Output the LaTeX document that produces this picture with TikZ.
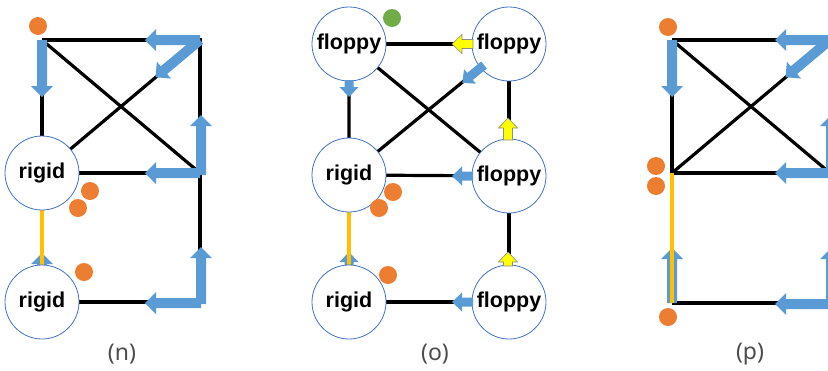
\documentclass[tikz,border=0pt]{standalone}
\usepackage{fontspec}
\setmainfont{Liberation Sans}
\newfontfamily\capfont{Noto Sans}
\definecolor{arrowblue}{HTML}{5B9BD5}
\definecolor{dotorange}{HTML}{ED7D31}
\definecolor{dotgreen}{HTML}{70AD47}
\definecolor{rigidbar}{HTML}{FFC000}
\definecolor{ringblue}{HTML}{4472C4}
\definecolor{flagyellow}{HTML}{FFFF00}

% block arrow: #1 style, #2 start point, #3 direction (degrees), #4 length
\newcommand\blockarrow[4][blueblock]{%
  \begin{scope}[shift={#2}, rotate=#3]
    \path[#1] (0,-5) -- (#4-11,-5) -- (#4-11,-11) -- (#4,0)
      -- (#4-11,11) -- (#4-11,5) -- (0,5) -- cycle;
  \end{scope}}
% smaller block arrow used next to the circle nodes
\newcommand\smallarrow[4][blueblock]{%
  \begin{scope}[shift={#2}, rotate=#3]
    \path[#1] (0,-4.5) -- (#4-10,-4.5) -- (#4-10,-9.5) -- (#4,0)
      -- (#4-10,9.5) -- (#4-10,4.5) -- (0,4.5) -- cycle;
  \end{scope}}

\tikzset{
  bar/.style={line width=3.2pt, black},
  rigidlink/.style={line width=3.6pt, rigidbar},
  blueblock/.style={fill=arrowblue},
  yellowblock/.style={fill=flagyellow, draw=black!45, line width=0.6pt},
  state/.style={circle, draw=ringblue, line width=0.8pt, fill=white,
    minimum size=74pt, inner sep=0pt,
    font=\fontsize{21.5}{25}\selectfont\bfseries},
  dot/.style={circle, fill=dotorange, minimum size=18pt, inner sep=0pt},
  gdot/.style={circle, fill=dotgreen, minimum size=18pt, inner sep=0pt},
  caption/.style={font=\capfont\fontsize{23}{27}\selectfont, text=black!70}
}

\begin{document}
\begin{tikzpicture}[x=1pt, y=-1pt]
\useasboundingbox (0,0) rectangle (828,370);
\clip (0,0) rectangle (828,370);

% ---------------- (n) ----------------
\coordinate (nTL) at (42,40);
\coordinate (nTR) at (200,40);
\coordinate (nMR) at (200,173);
\coordinate (nBR) at (200,302);
\coordinate (nM0) at (42,173);
\coordinate (nB0) at (42,302);

\draw[bar] (nTL) -- (nTR) -- (nMR) -- (nBR) -- (nB0);
\draw[bar] (nTL) -- (nM0) -- (nMR);
\draw[bar] (nTL) -- (nMR);
\draw[bar] (nTR) -- (nM0);
\blockarrow{(42,276)}{90}{23}
\draw[rigidlink] (nM0) -- (nB0);
\node[state] (nM) at (nM0) {rigid};
\node[state] (nB) at (nB0) {rigid};

\blockarrow{(nTL)}{270}{57}
\blockarrow{(nTR)}{180}{55}
\blockarrow{(nTR)}{219.9}{58}
\blockarrow{(201,175)}{90}{60}
\blockarrow{(nMR)}{180}{55}
\blockarrow{(201,304)}{90}{57}
\blockarrow{(201,303)}{180}{56}

\node[dot] (n1) at (38,26) {};
\node[dot] (n2) at (90,191) {};
\node[dot] (n3) at (78,208) {};
\node[dot] (n4) at (84,272) {};
\node[caption] (ncap) at (122,354) {(n)};

% ---------------- (o) ----------------
\coordinate (oTL0) at (349,44);
\coordinate (oTR0) at (509,44);
\coordinate (oM0) at (349,175);
\coordinate (oMR0) at (509,176);
\coordinate (oB0) at (349,302);
\coordinate (oBR0) at (509,302);

\draw[bar] (oTL0) -- (oTR0) -- (oMR0) -- (oBR0) -- (oB0);
\draw[bar] (oTL0) -- (oM0) -- (oMR0);
\draw[bar] (oTL0) -- (oMR0);
\draw[bar] (oTR0) -- (oM0);
\smallarrow{(349,276)}{90}{24}
\draw[rigidlink] (oM0) -- (oB0);

\node[state] (oTL) at (oTL0) {floppy};
\node[state] (oTR) at (oTR0) {floppy};
\node[state] (oM) at (oM0) {rigid};
\node[state] (oMR) at (oMR0) {floppy};
\node[state] (oB) at (oB0) {rigid};
\node[state] (oBR) at (oBR0) {floppy};

\smallarrow[yellowblock]{(473,44)}{180}{21}
\smallarrow{(484,65)}{219.3}{28}
\smallarrow{(349,80)}{270}{17}
\smallarrow[yellowblock]{(508,140)}{90}{22}
\smallarrow{(473,176)}{180}{21}
\smallarrow[yellowblock]{(508,266)}{90}{14}
\smallarrow{(473,302)}{180}{21}

\node[gdot] (o0) at (392,18) {};
\node[dot] (o1) at (393,192) {};
\node[dot] (o2) at (379,208) {};
\node[dot] (o3) at (388,275) {};
\node[caption] (ocap) at (435,354) {(o)};

% ---------------- (p) ----------------
\coordinate (pTL) at (672,40);
\coordinate (pTR) at (830,40);
\coordinate (pM) at (672,173);
\coordinate (pMR) at (830,173);
\coordinate (pB) at (672,303);
\coordinate (pBR) at (830,303);

\draw[bar] (pTL) -- (pTR) -- (pMR) -- (pBR) -- (pB);
\draw[bar] (pTL) -- (pM) -- (pMR);
\draw[bar] (pTL) -- (pMR);
\draw[bar] (pTR) -- (pM);
\blockarrow{(pB)}{90}{55}
\draw[rigidlink] (pM) -- (pB);

\blockarrow{(pTL)}{270}{57}
\blockarrow{(pTR)}{180}{55}
\blockarrow{(pTR)}{219.9}{58}
\blockarrow{(831,175)}{90}{60}
\blockarrow{(pMR)}{180}{55}
\blockarrow{(831,305)}{90}{57}
\blockarrow{(831,304)}{180}{56}

\node[dot] (p1) at (668,27) {};
\node[dot] (p2) at (656,166) {};
\node[dot] (p3) at (656,186) {};
\node[dot] (p4) at (668,317) {};
\node[caption] (pcap) at (750,354) {(p)};
\end{tikzpicture}
\end{document}
